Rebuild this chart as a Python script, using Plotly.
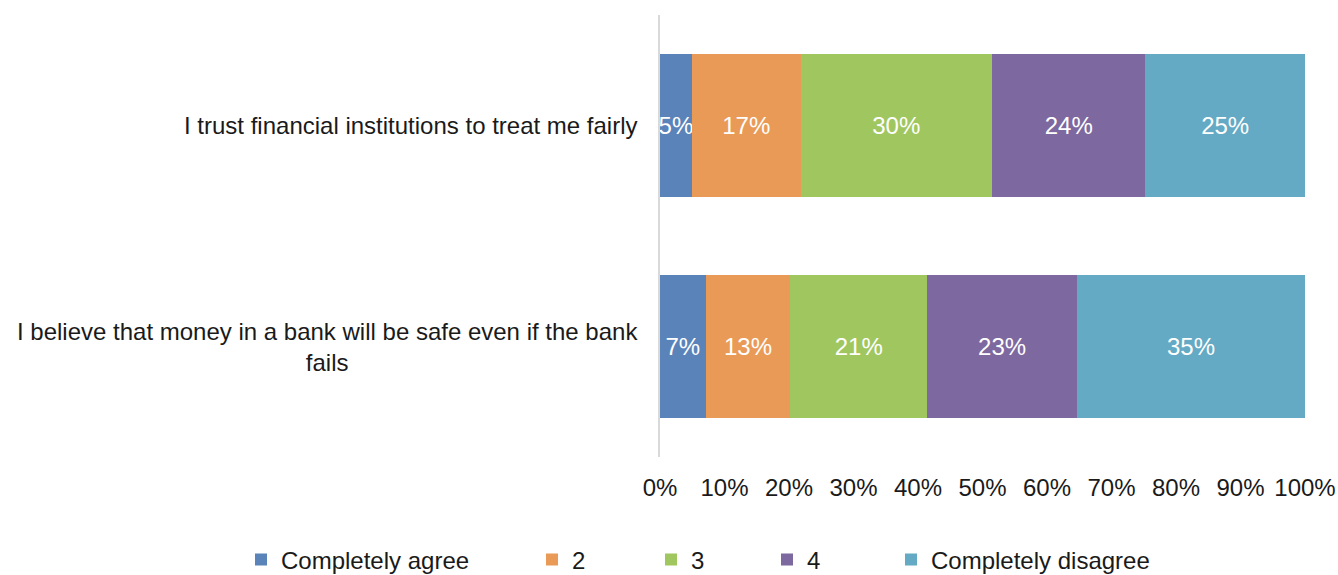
import plotly.graph_objects as go

# Survey statements (top to bottom)
statements = [
    "I trust financial institutions to treat me fairly",
    "I believe that money in a bank will be safe even if the bank<br>fails",
]

# Response scale and share of respondents (%) per statement
responses = ["Completely agree", "2", "3", "4", "Completely disagree"]
completely_agree = [5, 7]
level_2 = [17, 13]
level_3 = [30, 21]
level_4 = [24, 23]
completely_disagree = [25, 35]

series = [completely_agree, level_2, level_3, level_4, completely_disagree]
colors = ["#5A83BA", "#EA9A57", "#A0C75F", "#7D68A0", "#64AAC4"]

# x-axis tick labels
tick_vals = [0, 10, 20, 30, 40, 50, 60, 70, 80, 90, 100]
tick_text = [f"{v}%" for v in tick_vals]

FONT = "Liberation Sans, Arial, sans-serif"
FS = 24
W, H = 1338, 575

fig = go.Figure()
legend_names = ["legend", "legend2", "legend3", "legend4", "legend5"]
for name, vals, col, lg in zip(responses, series, colors, legend_names):
    fig.add_trace(go.Bar(
        y=statements,
        x=vals,
        name=name,
        orientation="h",
        marker=dict(color=col, line=dict(width=0)),
        text=[f"{v}%" for v in vals],
        textposition="inside",
        insidetextanchor="middle",
        textangle=0,
        textfont=dict(color="white", size=FS, family=FONT),
        constraintext="none",
        cliponaxis=False,
        legend=lg,
    ))

# Legend entries laid out in a single row at the bottom
legend_x = [241, 532, 651, 767, 891]
layout_legends = {}
for lg, px in zip(legend_names, legend_x):
    layout_legends[lg] = dict(
        xref="container", yref="container",
        x=px / W, y=1 - 560 / H,
        xanchor="left", yanchor="middle",
        orientation="h",
        font=dict(size=FS, family=FONT, color="#1a1a1a"),
        bgcolor="rgba(0,0,0,0)",
        itemwidth=30,
    )

# Category labels, centred line by line
annotations = []
for s in statements:
    annotations.append(dict(
        x=0, xref="paper", y=s, yref="y",
        text=s, showarrow=False,
        xanchor="right", yanchor="middle", align="center",
        xshift=-20,
        font=dict(size=FS, family=FONT, color="#1a1a1a"),
    ))

fig.update_layout(
    width=W, height=H,
    barmode="stack",
    barnorm="percent",
    bargap=0.35,
    plot_bgcolor="white",
    paper_bgcolor="white",
    margin=dict(l=660, r=33, t=15, b=118, autoexpand=False),
    font=dict(family=FONT, size=FS, color="#1a1a1a"),
    uniformtext=dict(mode="show", minsize=FS),
    showlegend=True,
    annotations=annotations,
    xaxis=dict(
        range=[0, 100],
        tickvals=tick_vals,
        ticktext=tick_text,
        showgrid=False,
        zeroline=False,
        showline=False,
        ticks="",
        ticklabelstandoff=14,
        tickfont=dict(size=FS, family=FONT, color="#1a1a1a"),
        automargin=False,
        fixedrange=True,
    ),
    yaxis=dict(
        autorange="reversed",
        showticklabels=False,
        showgrid=False,
        zeroline=False,
        showline=True,
        linecolor="#D9D9D9",
        linewidth=2,
        ticks="",
        automargin=False,
    ),
    **layout_legends,
)

fig.write_html("out.html")
